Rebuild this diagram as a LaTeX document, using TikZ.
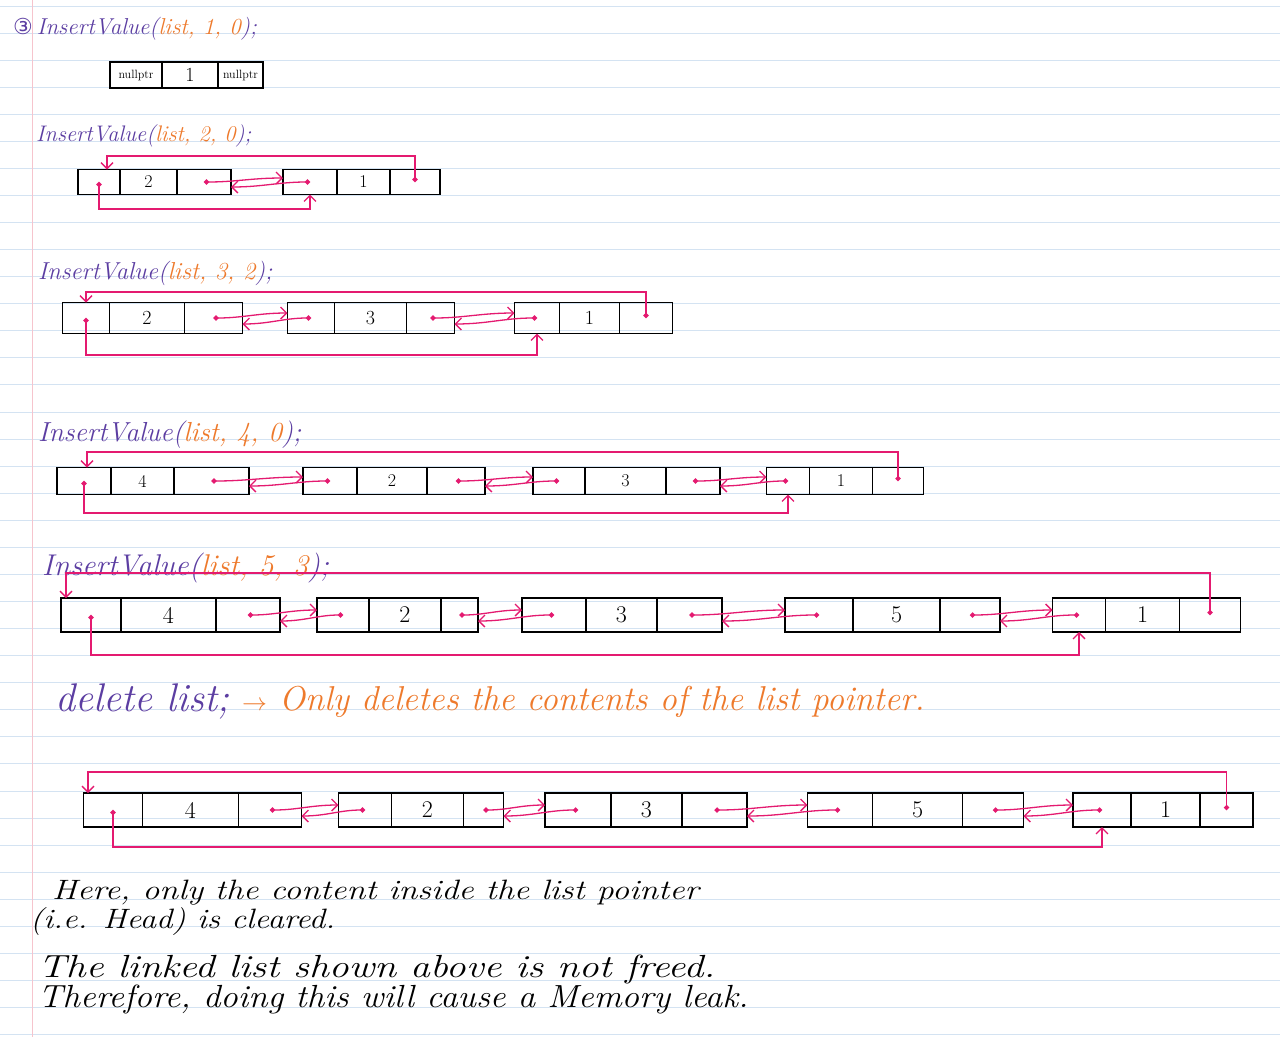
\documentclass[tikz,border=0pt]{standalone}
\usepackage{fontspec}
\usepackage{graphicx}
\usepackage{tikz}
\usetikzlibrary{positioning,arrows.meta}
\newfontfamily\circfont{DejaVu Sans}

\definecolor{ptrpink}{RGB}{228,26,112}
\definecolor{inkpurple}{RGB}{92,62,162}
\definecolor{inkorange}{RGB}{238,122,44}
\definecolor{ruling}{RGB}{212,227,242}
\definecolor{marginred}{RGB}{246,196,205}

\begin{document}
\begin{tikzpicture}[x=1pt, y=-1pt,
    cell/.style={draw, line width=1.2pt, inner sep=0pt, outer sep=0pt, minimum width=#1},
    ptr/.style={draw=ptrpink, line width=1.3pt,
                {Circle[length=5pt]}-{Straight Barb[length=6pt,width=12pt]}},
    call/.style={anchor=base west, inner sep=0pt, inkpurple, font=\fontsize{#1}{#1}\selectfont\itshape},
    note/.style={anchor=base west, inner sep=0pt, font=\fontsize{#1}{#1}\selectfont\itshape}]
   \useasboundingbox[fill=white] (0,0) rectangle (1280,1037);
   % ruled page
   \foreach \k in {0,...,38}
      \draw[ruling, line width=1pt] (0,{6+27.07*\k}) -- (1280,{6+27.07*\k});
   \draw[marginred, line width=1pt] (32,0) -- (32,1037);

   % InsertValue(list, 1, 0)
   \node[call=23] (t1) at (13,34) {{\circfont\fontsize{22}{22}\selectfont ③}\hspace{4pt}InsertValue(\textcolor{inkorange}{list, 1, 0});};
   \begin{scope}[every node/.append style={minimum height=26, font=\fontsize{20}{20}\selectfont}]
   \node[cell=52] (r1_p) at (136,75) {\fontsize{12}{12}\selectfont nullptr};
   \node[cell=56] (r1_d) [right = 0pt of r1_p] {1};
   \node[cell=45] (r1_n) [right = 0pt of r1_d] {\fontsize{12}{12}\selectfont nullptr};
   \end{scope}

   % InsertValue(list, 2, 0)
   \node[call=22.5] (t2) at (36,141) {InsertValue(\textcolor{inkorange}{list, 2, 0});};
   \begin{scope}[every node/.append style={minimum height=25, font=\fontsize{18}{18}\selectfont}]
   \node[cell=42] (r2a_p) at (99,182) {};
   \node[cell=57] (r2a_d) [right = 0pt of r2a_p] {2};
   \node[cell=54] (r2a_n) [right = 0pt of r2a_d] {};
   \node[cell=54] (r2b_p) at (310,182) {};
   \node[cell=53] (r2b_d) [right = 0pt of r2b_p] {1};
   \node[cell=50] (r2b_n) [right = 0pt of r2b_d] {};
   \end{scope}
   \coordinate (top2) at (0,156);
   \coordinate (bot2) at (0,209);
   \draw[ptr] (r2a_n.center) to[out=0, in=180] ([yshift=4pt]r2b_p.west);
   \draw[ptr] (r2b_p.center) to[out=180, in=0] ([yshift=-5pt]r2a_n.east);
   \draw[ptr] (r2b_n.center) -- (r2b_n.center |- top2) -| ([xshift=8pt]r2a_p.north);
   \draw[ptr] (r2a_p.center) -- (r2a_p.center |- bot2) -| (r2b_p.south);

   % InsertValue(list, 3, 2)
   \node[call=24.5] (t3) at (38,279) {InsertValue(\textcolor{inkorange}{list, 3, 2});};
   \begin{scope}[every node/.append style={minimum height=31, font=\fontsize{20}{20}\selectfont}]
   \node[cell=47] (r3a_p) at (86,318) {};
   \node[cell=75] (r3a_d) [right = 0pt of r3a_p] {2};
   \node[cell=58] (r3a_n) [right = 0pt of r3a_d] {};
   \node[cell=47] (r3b_p) at (311,318) {};
   \node[cell=72] (r3b_d) [right = 0pt of r3b_p] {3};
   \node[cell=48] (r3b_n) [right = 0pt of r3b_d] {};
   \node[cell=45] (r3c_p) at (537,318) {};
   \node[cell=60] (r3c_d) [right = 0pt of r3c_p] {1};
   \node[cell=53] (r3c_n) [right = 0pt of r3c_d] {};
   \end{scope}
   \coordinate (top3) at (0,292);
   \coordinate (bot3) at (0,355);
   \draw[ptr] (r3a_n.center) to[out=0, in=180] ([yshift=5pt]r3b_p.west);
   \draw[ptr] (r3b_p.center) to[out=180, in=0] ([yshift=-6pt]r3a_n.east);
   \draw[ptr] (r3b_n.center) to[out=0, in=180] ([yshift=5pt]r3c_p.west);
   \draw[ptr] (r3c_p.center) to[out=180, in=0] ([yshift=-6pt]r3b_n.east);
   \draw[ptr] (r3c_n.center) -- (r3c_n.center |- top3) -| (r3a_p.north);
   \draw[ptr] (r3a_p.center) -- (r3a_p.center |- bot3) -| (r3c_p.south);

   % InsertValue(list, 4, 0)
   \node[call=27.5] (t4) at (38,441) {InsertValue(\textcolor{inkorange}{list, 4, 0});};
   \begin{scope}[every node/.append style={minimum height=27, font=\fontsize{18}{18}\selectfont}]
   \node[cell=54] (r4a_p) at (84,481) {};
   \node[cell=63] (r4a_d) [right = 0pt of r4a_p] {4};
   \node[cell=75] (r4a_n) [right = 0pt of r4a_d] {};
   \node[cell=54] (r4b_p) at (330,481) {};
   \node[cell=70] (r4b_d) [right = 0pt of r4b_p] {2};
   \node[cell=58] (r4b_n) [right = 0pt of r4b_d] {};
   \node[cell=52] (r4c_p) at (559,481) {};
   \node[cell=81] (r4c_d) [right = 0pt of r4c_p] {3};
   \node[cell=54] (r4c_n) [right = 0pt of r4c_d] {};
   \node[cell=43] (r4d_p) at (788,481) {};
   \node[cell=63] (r4d_d) [right = 0pt of r4d_p] {1};
   \node[cell=51] (r4d_n) [right = 0pt of r4d_d] {};
   \end{scope}
   \coordinate (top4) at (0,452);
   \coordinate (bot4) at (0,513);
   \draw[ptr] (r4a_n.center) to[out=0, in=180] ([yshift=4pt]r4b_p.west);
   \draw[ptr] (r4b_p.center) to[out=180, in=0] ([yshift=-5pt]r4a_n.east);
   \draw[ptr] (r4b_n.center) to[out=0, in=180] ([yshift=4pt]r4c_p.west);
   \draw[ptr] (r4c_p.center) to[out=180, in=0] ([yshift=-5pt]r4b_n.east);
   \draw[ptr] (r4c_n.center) to[out=0, in=180] ([yshift=4pt]r4d_p.west);
   \draw[ptr] (r4d_p.center) to[out=180, in=0] ([yshift=-5pt]r4c_n.east);
   \draw[ptr] (r4d_n.center) -- (r4d_n.center |- top4) -| ([xshift=3pt]r4a_p.north);
   \draw[ptr] (r4a_p.center) -- (r4a_p.center |- bot4) -| (r4d_p.south);

   % InsertValue(list, 5, 3)
   \node[call=30] (t5) at (42,575) {InsertValue(\textcolor{inkorange}{list, 5, 3});};
   \begin{scope}[every node/.append style={minimum height=34, font=\fontsize{24}{24}\selectfont}]
   \node[cell=60] (r5a_p) at (91,615) {};
   \node[cell=95] (r5a_d) [right = 0pt of r5a_p] {4};
   \node[cell=64] (r5a_n) [right = 0pt of r5a_d] {};
   \node[cell=52] (r5b_p) at (343,615) {};
   \node[cell=72] (r5b_d) [right = 0pt of r5b_p] {2};
   \node[cell=37] (r5b_n) [right = 0pt of r5b_d] {};
   \node[cell=64] (r5c_p) at (554,615) {};
   \node[cell=71] (r5c_d) [right = 0pt of r5c_p] {3};
   \node[cell=65] (r5c_n) [right = 0pt of r5c_d] {};
   \node[cell=68] (r5d_p) at (819,615) {};
   \node[cell=87] (r5d_d) [right = 0pt of r5d_p] {5};
   \node[cell=60] (r5d_n) [right = 0pt of r5d_d] {};
   \node[cell=53] (r5e_p) at (1079,615) {};
   \node[cell=74] (r5e_d) [right = 0pt of r5e_p] {1};
   \node[cell=61] (r5e_n) [right = 0pt of r5e_d] {};
   \end{scope}
   \coordinate (top5) at (0,573);
   \coordinate (bot5) at (0,655);
   \draw[ptr] (r5a_n.center) to[out=0, in=180] ([yshift=5pt]r5b_p.west);
   \draw[ptr] (r5b_p.center) to[out=180, in=0] ([yshift=-6pt]r5a_n.east);
   \draw[ptr] (r5b_n.center) to[out=0, in=180] ([yshift=5pt]r5c_p.west);
   \draw[ptr] (r5c_p.center) to[out=180, in=0] ([yshift=-6pt]r5b_n.east);
   \draw[ptr] (r5c_n.center) to[out=0, in=180] ([yshift=5pt]r5d_p.west);
   \draw[ptr] (r5d_p.center) to[out=180, in=0] ([yshift=-6pt]r5c_n.east);
   \draw[ptr] (r5d_n.center) to[out=0, in=180] ([yshift=5pt]r5e_p.west);
   \draw[ptr] (r5e_p.center) to[out=180, in=0] ([yshift=-6pt]r5d_n.east);
   \draw[ptr] (r5e_n.center) -- (r5e_n.center |- top5) -| ([xshift=-25pt]r5a_p.north);
   \draw[ptr] (r5a_p.center) -- (r5a_p.center |- bot5) -| (r5e_p.south);

   % delete list
   \node[call=40] (t6) at (55,711) {delete list;};
   \node[call=34.5, inkorange] (t7) at (242,710)
      {$\rightarrow$ Only deletes the contents of the list pointer.};

   \begin{scope}[every node/.append style={minimum height=34, font=\fontsize{24}{24}\selectfont}]
   \node[cell=59] (r6a_p) at (113,810) {};
   \node[cell=96] (r6a_d) [right = 0pt of r6a_p] {4};
   \node[cell=63] (r6a_n) [right = 0pt of r6a_d] {};
   \node[cell=53] (r6b_p) at (365,810) {};
   \node[cell=72] (r6b_d) [right = 0pt of r6b_p] {2};
   \node[cell=40] (r6b_n) [right = 0pt of r6b_d] {};
   \node[cell=66] (r6c_p) at (578,810) {};
   \node[cell=71] (r6c_d) [right = 0pt of r6c_p] {3};
   \node[cell=65] (r6c_n) [right = 0pt of r6c_d] {};
   \node[cell=65] (r6d_p) at (840,810) {};
   \node[cell=90] (r6d_d) [right = 0pt of r6d_p] {5};
   \node[cell=61] (r6d_n) [right = 0pt of r6d_d] {};
   \node[cell=58] (r6e_p) at (1102,810) {};
   \node[cell=69] (r6e_d) [right = 0pt of r6e_p] {1};
   \node[cell=53] (r6e_n) [right = 0pt of r6e_d] {};
   \end{scope}
   \coordinate (top6) at (0,772);
   \coordinate (bot6) at (0,847);
   \draw[ptr] (r6a_n.center) to[out=0, in=180] ([yshift=5pt]r6b_p.west);
   \draw[ptr] (r6b_p.center) to[out=180, in=0] ([yshift=-6pt]r6a_n.east);
   \draw[ptr] (r6b_n.center) to[out=0, in=180] ([yshift=5pt]r6c_p.west);
   \draw[ptr] (r6c_p.center) to[out=180, in=0] ([yshift=-6pt]r6b_n.east);
   \draw[ptr] (r6c_n.center) to[out=0, in=180] ([yshift=5pt]r6d_p.west);
   \draw[ptr] (r6d_p.center) to[out=180, in=0] ([yshift=-6pt]r6c_n.east);
   \draw[ptr] (r6d_n.center) to[out=0, in=180] ([yshift=5pt]r6e_p.west);
   \draw[ptr] (r6e_p.center) to[out=180, in=0] ([yshift=-6pt]r6d_n.east);
   \draw[ptr] (r6e_n.center) -- (r6e_n.center |- top6) -| ([xshift=-25pt]r6a_p.north);
   \draw[ptr] (r6a_p.center) -- (r6a_p.center |- bot6) -| (r6e_p.south);

   % notes
   \node[note=28] (t8) at (52,899) {\scalebox{1.22}[1]{Here, only the content inside the list pointer}};
   \node[note=28] (t9) at (30,928) {\scalebox{1.17}[1]{(i.e. Head) is cleared.}};
   \node[note=32] (t10) at (38,977) {\scalebox{1.24}[1]{The linked list shown above is not freed.}};
   \node[note=32] (t11) at (38,1007) {\scalebox{1.09}[1]{Therefore, doing this will cause a Memory leak.}};
\end{tikzpicture}
\end{document}
